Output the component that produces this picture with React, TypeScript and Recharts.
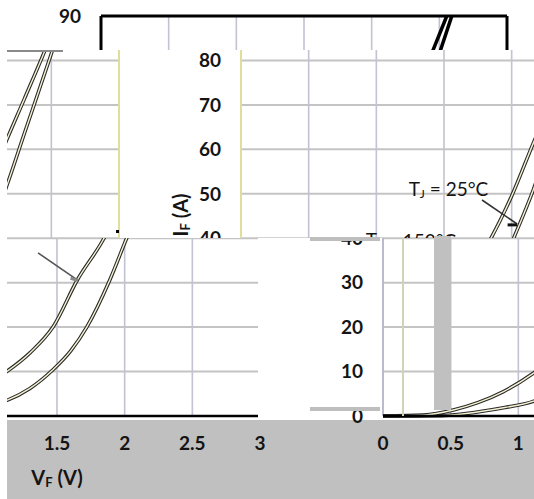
import React from 'react';
import {
  LineChart,
  Line,
  XAxis,
  YAxis,
  CartesianGrid,
  ReferenceLine,
  ReferenceDot,
} from 'recharts';

// Axis ticks
const voltageTicks = [0, 0.5, 1, 1.5, 2, 2.5, 3];
const currentTicks = [0, 10, 20, 30, 40, 50, 60, 70, 80, 90];

// Forward characteristic, Tj = 25 °C
const vf25 = [0, 0.4, 0.72, 0.9, 1.12, 1.3, 1.47, 1.6, 1.72, 1.89, 2.0, 2.16, 2.3, 2.49, 2.592];
const if25 = [0, 0.05, 1.0, 1.9, 3.4, 6.2, 10.4, 14.6, 20.0, 30.6, 38.9, 50.9, 63.5, 80.6, 90];

// Forward characteristic, Tj = 150 °C
const vf150 = [0, 0.3, 0.52, 0.7, 0.89, 1.11, 1.3, 1.47, 1.65, 1.84, 2.0, 2.16, 2.3, 2.44, 2.555];
const if150 = [0, 0.2, 1.35, 3.0, 5.5, 9.6, 14.2, 20.0, 30.6, 39.6, 49.5, 61.4, 71.3, 81.3, 90];

const curve25 = vf25.map((v, k) => ({ v, i: if25[k] }));
const curve150 = vf150.map((v, k) => ({ v, i: if150[k] }));

const FONT = 'Lato, "Open Sans", sans-serif';
const INK = '#141414';

function TjText(props: any) {
  const { viewBox, temp } = props;
  const cx = viewBox.x + viewBox.width / 2;
  const cy = viewBox.y + viewBox.height / 2;
  return (
    <text x={cx} y={cy} textAnchor="middle" dominantBaseline="central" fontFamily={FONT} fontSize={19} fill={INK}>
      T
      <tspan fontSize={12} dy={5}>J</tspan>
      <tspan dy={-5}>{` = ${temp}°C`}</tspan>
    </text>
  );
}

function YTitle(props: any) {
  const { viewBox } = props;
  const x = viewBox.x - 1;
  const y = viewBox.y + 199;
  return (
    <text
      transform={`translate(${x},${y}) rotate(-90)`}
      textAnchor="middle"
      dominantBaseline="central"
      fontFamily={FONT}
      fontWeight={700}
      fontSize={20}
      fill={INK}
    >
      I
      <tspan fontSize={13} dy={5}>F</tspan>
      <tspan dy={-5}> (A)</tspan>
    </text>
  );
}

function XTitle(props: any) {
  const { viewBox } = props;
  const x = viewBox.x + viewBox.width / 2;
  const y = viewBox.y + 61;
  return (
    <text x={x} y={y} textAnchor="middle" dominantBaseline="central" fontFamily={FONT} fontWeight={700} fontSize={20} fill={INK}>
      V
      <tspan fontSize={13} dy={5}>F</tspan>
      <tspan dy={-5}> (V)</tspan>
    </text>
  );
}

type ChartProps = {
  framed?: boolean;
  solid?: boolean;
  show150Label?: boolean;
  edgeColor?: string;
};

function ForwardChart({ framed = false, solid = false, show150Label = false, edgeColor = '#e6e28a' }: ChartProps) {
  const tickStyle = { fontFamily: FONT, fontSize: 19, fontWeight: 700, fill: INK };
  const curves = solid
    ? [
        <Line key="o25" data={curve25} dataKey="i" type="monotone" stroke="#000" strokeWidth={3.5} dot={false} isAnimationActive={false} />,
        <Line key="o150" data={curve150} dataKey="i" type="monotone" stroke="#000" strokeWidth={3.5} dot={false} isAnimationActive={false} />,
      ]
    : [
        <Line key="o25" data={curve25} dataKey="i" type="monotone" stroke="#2a2a2a" strokeWidth={3.6} dot={false} isAnimationActive={false} />,
        <Line key="o150" data={curve150} dataKey="i" type="monotone" stroke="#2a2a2a" strokeWidth={3.6} dot={false} isAnimationActive={false} />,
        <Line key="i25" data={curve25} dataKey="i" type="monotone" stroke="#f6f3d2" strokeWidth={1.4} dot={false} isAnimationActive={false} />,
        <Line key="i150" data={curve150} dataKey="i" type="monotone" stroke="#f6f3d2" strokeWidth={1.4} dot={false} isAnimationActive={false} />,
      ];

  return (
    <LineChart width={534} height={499} margin={{ top: 16, right: 27, bottom: 0, left: 41 }}>
      <CartesianGrid horizontal={true} vertical={false} stroke="#c4c4c4" strokeWidth={2} />
      <CartesianGrid horizontal={false} vertical={true} stroke="#c2c2d2" strokeWidth={1.6} />
      <XAxis
        type="number"
        dataKey="v"
        domain={[0, 3]}
        ticks={voltageTicks}
        interval={0}
        height={83}
        tickSize={0}
        tickMargin={21}
        tickLine={false}
        axisLine={{ stroke: '#000', strokeWidth: 2.5 }}
        tick={tickStyle}
        label={<XTitle />}
      />
      <YAxis
        type="number"
        domain={[0, 90]}
        ticks={currentTicks}
        interval={0}
        width={60}
        tickSize={0}
        tickMargin={20}
        tickLine={false}
        axisLine={false}
        tick={tickStyle}
        label={<YTitle />}
      />
      <ReferenceLine x={0} stroke={framed ? '#000' : edgeColor} strokeWidth={framed ? 3 : 1.6} />
      <ReferenceLine x={3} stroke={framed ? '#000' : edgeColor} strokeWidth={framed ? 3 : 1.6} />
      {framed && <ReferenceLine y={90} stroke="#000" strokeWidth={3} />}
      {curves}
      <ReferenceLine segment={[{ x: 1.781, y: 48.6 }, { x: 2.04, y: 43.2 }]} stroke="#333" strokeWidth={1.6} />
      <ReferenceLine segment={[{ x: 1.97, y: 43.0 }, { x: 2.04, y: 43.0 }]} stroke="#111" strokeWidth={3} />
      <ReferenceDot x={1.533} y={51.3} r={0} fill="none" stroke="none" label={<TjText temp="25" />} />
      <ReferenceLine segment={[{ x: 1.36, y: 36.7 }, { x: 1.655, y: 30.5 }]} stroke="#555" strokeWidth={1.6} />
      <ReferenceLine segment={[{ x: 1.6, y: 31.0 }, { x: 1.655, y: 30.5 }]} stroke="#888" strokeWidth={3} />
      {show150Label && <ReferenceDot x={1.256} y={39.7} r={0} fill="none" stroke="none" label={<TjText temp="150" />} />}
    </LineChart>
  );
}

type TileProps = ChartProps & {
  left: number;
  top: number;
  width: number;
  height: number;
  shift: number;
  bg?: string;
};

// A clipped window onto the chart, shifted horizontally by `shift`
function Tile({ left, top, width, height, shift, bg = '#fff', ...rest }: TileProps) {
  return (
    <div style={{ position: 'absolute', left, top, width, height, overflow: 'hidden', background: bg }}>
      <div style={{ position: 'absolute', left: shift - left, top: -top, width: 534, height: 499 }}>
        <ForwardChart {...rest} />
      </div>
    </div>
  );
}

function Bar({ left, top, width, height, color }: { left: number; top: number; width: number; height: number; color: string }) {
  return <div style={{ position: 'absolute', left, top, width, height, background: color }} />;
}

export default function App() {
  const GRAY = '#c0c0c0';
  return (
    <div style={{ position: 'absolute', left: 0, top: 0, width: 534, height: 499, overflow: 'hidden', background: '#fff' }}>
      {/* top strip */}
      <Tile left={0} top={0} width={534} height={50} shift={0} framed solid />
      {/* upper band */}
      <Tile left={7} top={50} width={114} height={188} shift={-388} show150Label />
      <Tile left={121} top={50} width={413} height={188} shift={140} show150Label />
      {/* lower band */}
      <Tile left={7} top={238} width={251} height={182} shift={-247} edgeColor="#b6b6ca" />
      <Tile left={258} top={238} width={276} height={182} shift={282} edgeColor="#b6b6ca" />
      {/* axis label strip */}
      <Tile left={7} top={420} width={303} height={79} shift={-247} bg={GRAY} />
      <Tile left={310} top={420} width={224} height={79} shift={282} bg={GRAY} />
      <Bar left={434} top={236} width={17} height={174} color={GRAY} />
      <Bar left={402} top={238} width={1.5} height={178} color="#d2d2b8" />
      <Bar left={310} top={237} width={70} height={4} color="#bebebe" />
      <Bar left={310} top={407} width={70} height={4} color="#bebebe" />
      <Bar left={7} top={50} width={56} height={1.5} color="#8a8a8a" />
      <Bar left={116} top={230} width={3} height={3} color="#000" />
    </div>
  );
}
